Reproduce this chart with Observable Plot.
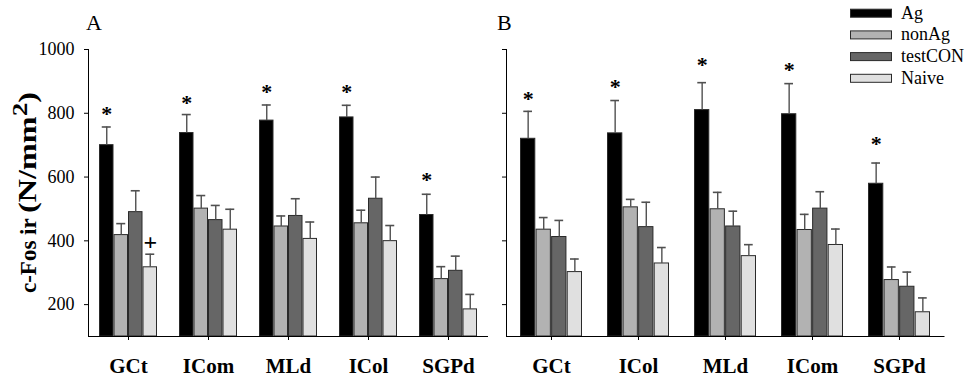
<!DOCTYPE html>
<html><head><meta charset="utf-8">
<script src="https://cdn.jsdelivr.net/npm/d3@7"></script>
<script src="https://cdn.jsdelivr.net/npm/@observablehq/plot@0.6"></script>
<style>
body{margin:0;background:#fff;}
#wrap{position:relative;width:966px;height:378px;overflow:hidden;background:#fff;font-family:"Liberation Serif","Times New Roman",serif;}
.panel{position:absolute;top:0;}
#overlay{position:absolute;left:0;top:0;}
.panel svg [aria-label="x-axis tick label"]{font-weight:bold;font-size:21px;}
</style></head>
<body><div id="wrap">
<div id="pa" class="panel" style="left:0px"></div>
<div id="pb" class="panel" style="left:490px"></div>
<svg id="overlay" width="966" height="378" font-family="Liberation Serif, Times New Roman, serif"></svg>
</div>
<script>
// ---------- data ----------
const groups = ["Ag", "nonAg", "testCON", "Naive"];
const yTicks = [200, 400, 600, 800, 1000];

// Panel A
const categoriesA = ["GCt", "ICom", "MLd", "ICol", "SGPd"];
const agMeanA      = [700, 738, 777, 787, 481];
const nonAgMeanA   = [418, 501, 445, 455, 280];
const testConMeanA = [490, 465, 478, 532, 306];
const naiveMeanA   = [317, 435, 406, 399, 185];
const agSemA       = [57, 58, 49, 38, 65];
const nonAgSemA    = [36, 41, 33, 41, 39];
const testConSemA  = [67, 46, 54, 68, 46];
const naiveSemA    = [41, 64, 53, 49, 47];
const starA        = [812, 847, 884, 884, 606];   // "*" marks over Ag bars
const plusA        = [{category: "GCt", group: "Naive", value: 395}];

// Panel B
const categoriesB = ["GCt", "ICol", "MLd", "ICom", "SGPd"];
const agMeanB      = [720, 737, 810, 797, 579];
const nonAgMeanB   = [435, 505, 499, 434, 277];
const testConMeanB = [412, 443, 445, 501, 256];
const naiveMeanB   = [302, 329, 352, 387, 176];
const agSemB       = [86, 103, 86, 96, 65];
const nonAgSemB    = [38, 25, 53, 49, 41];
const testConSemB  = [52, 78, 48, 53, 46];
const naiveSemB    = [41, 50, 36, 50, 45];
const starB        = [862, 898, 966, 950, 721];

// styles
const colors = ["#000000", "#b2b2b2", "#666666", "#e0e0e0"];
const barStroke = "#2a2a2a";
const errColor = "#505050";

function panel({categories, means, sems, stars, plus, width, height, marginLeft, marginRight, marginTop, marginBottom, paddingInner, yLabels}) {
  const step = (width - marginLeft - marginRight) / categories.length;
  const bw = step * (1 - paddingInner);
  const sub = bw / 4;
  const capW = 9;
  const marks = [];
  groups.forEach((g, gi) => {
    const rows = categories.map((c, ci) => ({category: c, mean: means[gi][ci], top: means[gi][ci] + sems[gi][ci]}));
    const center = (gi + 0.5) * sub;
    marks.push(Plot.barY(rows, {x: "category", y1: () => 100, y2: "mean", fill: colors[gi], stroke: barStroke, strokeWidth: 1,
      insetLeft: gi * sub + 0.5, insetRight: (3 - gi) * sub + 0.5}));
    marks.push(Plot.ruleX(rows, {x: "category", y1: "mean", y2: "top", dx: center - bw / 2, stroke: errColor, strokeWidth: 1.4}));
    marks.push(Plot.tickY(rows, {x: "category", y: "top", insetLeft: center - capW / 2, insetRight: bw - center - capW / 2, stroke: errColor, strokeWidth: 1.6}));
  });
  marks.push(Plot.text(categories.map((c, i) => ({category: c, value: stars[i]})), {
    x: "category", y: "value", text: () => "*", dx: 0.5 * sub - bw / 2, dy: 5, fontSize: 22, fontWeight: "bold", fill: "#000"}));
  if (plus) marks.push(Plot.text(plus, {x: "category", y: "value", text: () => "+",
    dx: (groups.indexOf(plus[0].group) + 0.5) * sub - bw / 2, fontSize: 24, fontWeight: "bold", fill: "#000"}));
  marks.push(Plot.ruleY([100], {stroke: "#000", strokeWidth: 1.2}));
  return Plot.plot({
    width, height, marginLeft, marginRight, marginTop, marginBottom,
    style: {fontFamily: "Liberation Serif, Times New Roman, serif", fontSize: "18px", color: "#000", background: "transparent"},
    x: {domain: categories, paddingInner, paddingOuter: paddingInner / 2, tickSize: 4, tickPadding: 18, label: null},
    y: {domain: [100, 1000], ticks: yTicks, tickSize: 4, tickPadding: 10, label: null, line: true,
        tickFormat: yLabels ? d => String(d) : () => ""},
    marks
  });
}

document.getElementById("pa").appendChild(panel({
  categories: categoriesA,
  means: [agMeanA, nonAgMeanA, testConMeanA, naiveMeanA],
  sems: [agSemA, nonAgSemA, testConSemA, naiveSemA],
  stars: starA, plus: plusA,
  width: 490, height: 378, marginLeft: 88, marginRight: 2, marginTop: 49, marginBottom: 42,
  paddingInner: 0.275, yLabels: true
}));
document.getElementById("pb").appendChild(panel({
  categories: categoriesB,
  means: [agMeanB, nonAgMeanB, testConMeanB, naiveMeanB],
  sems: [agSemB, nonAgSemB, testConSemB, naiveSemB],
  stars: starB, plus: null,
  width: 476, height: 378, marginLeft: 16, marginRight: 21.5, marginTop: 49, marginBottom: 42,
  paddingInner: 0.29, yLabels: false
}));

// ---------- overlay texts & legend ----------
const ov = d3.select("#overlay");
ov.append("text").attr("x", 86).attr("y", 30).attr("font-size", 22).text("A");
ov.append("text").attr("x", 497).attr("y", 30).attr("font-size", 22).text("B");
ov.append("text").attr("transform", "translate(36,293) rotate(-90)").attr("font-size", 23).attr("font-weight", "bold").text("c-Fos ir");
const t2 = ov.append("text").attr("transform", "translate(36,213) rotate(-90)").attr("font-size", 25).attr("font-weight", "bold")
  .attr("textLength", 121).attr("lengthAdjust", "spacingAndGlyphs");
t2.append("tspan").text("(N/mm");
t2.append("tspan").attr("dy", -9).attr("font-size", 21).text("2");
t2.append("tspan").attr("dy", 9).text(")");

const lg = ov.append("g");
groups.forEach((g, i) => {
  const base = 18.7 + i * 21.7;
  lg.append("rect").attr("x", 850.5).attr("y", base - 9.5).attr("width", 41).attr("height", 8)
    .attr("fill", colors[i]).attr("stroke", barStroke).attr("stroke-width", 1);
  lg.append("text").attr("x", 901).attr("y", base).attr("font-size", 18).text(g);
});
</script>
</body></html>
